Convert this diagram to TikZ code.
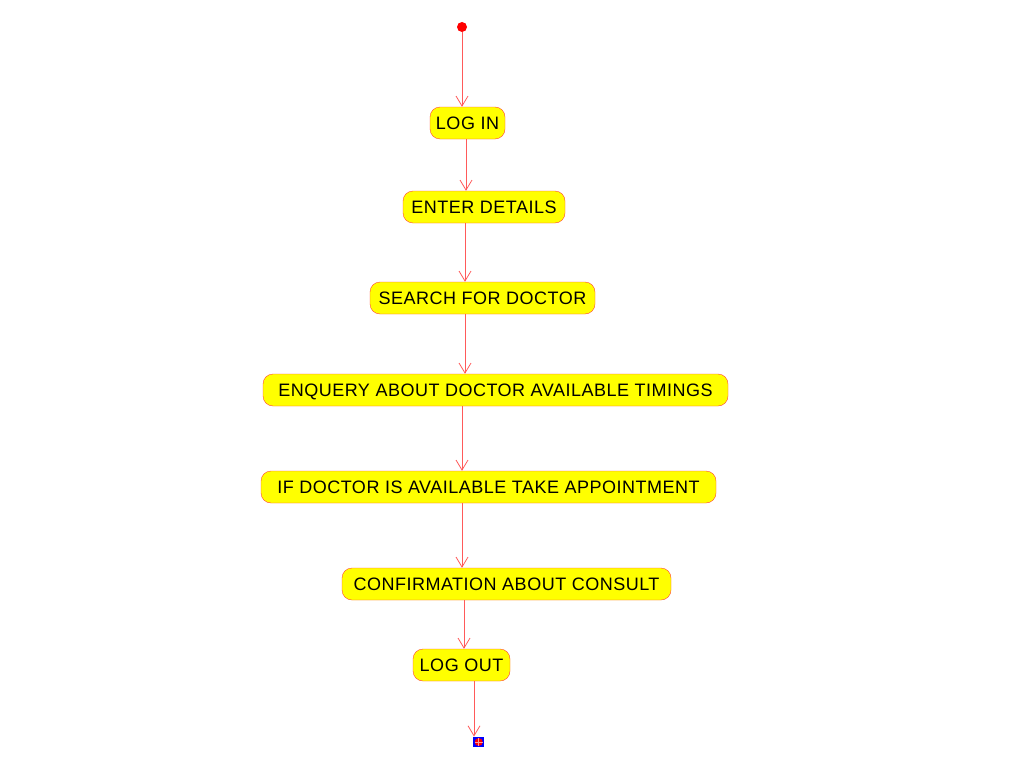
\documentclass[tikz,border=0pt]{standalone}
\usepackage{fontspec}
\setmainfont{Liberation Sans}
\newfontfamily\boxfont[LetterSpace=2.8]{Liberation Sans}
\usetikzlibrary{arrows.meta}
\definecolor{boxred}{HTML}{FF4433}
\definecolor{linered}{HTML}{FF5A5A}
\definecolor{boxfill}{HTML}{FFFF00}
\definecolor{endblue}{HTML}{0000FF}
\tikzset{
  act/.style={draw=boxred, fill=boxfill, rounded corners=10pt, minimum height=32pt,
    inner sep=0pt, text height=12.9pt, text depth=0pt,
    font=\boxfont\fontsize{18pt}{20pt}\selectfont, text=black},
  arr/.style={draw=linered, line width=0.8pt, -{Straight Barb[length=10pt,width=12pt,line width=0.8pt]}},
}
\begin{document}
\begin{tikzpicture}[x=1pt,y=1pt]
\useasboundingbox (0,0) rectangle (1015,-776);
\node[circle, fill=red, inner sep=0pt, minimum size=10pt] (start) at (462,-27) {};
\node[act, minimum width=75pt] (login) at (467.5,-123) {LOG IN};
\node[act, minimum width=162pt] (enter) at (484,-207) {ENTER DETAILS};
\node[act, minimum width=225pt] (search) at (482.5,-298) {SEARCH FOR DOCTOR};
\node[act, minimum width=465pt] (enq) at (495.5,-390) {ENQUERY ABOUT DOCTOR AVAILABLE TIMINGS};
\node[act, minimum width=455pt] (ifdoc) at (488.5,-487) {IF DOCTOR IS AVAILABLE TAKE APPOINTMENT};
\node[act, minimum width=329pt] (conf) at (506.5,-584) {CONFIRMATION ABOUT CONSULT};
\node[act, minimum width=97pt] (logout) at (461.5,-665) {LOG OUT};
\node[rectangle, fill=endblue, inner sep=0pt, minimum size=10.5pt] (end) at (478.7,-742) {};
\fill[red] (end.center) circle (4pt);
\draw[red!40, line width=0.9pt] ([xshift=-4pt]end.center) -- ([xshift=4pt]end.center)
  ([yshift=-4pt]end.center) -- ([yshift=4pt]end.center);
\draw[arr] (start.south) coordinate (t0) -- (t0 |- login.north);
\draw[arr] ([xshift=-1.5pt]login.south) coordinate (t1) -- (t1 |- enter.north);
\draw[arr] ([xshift=-19pt]enter.south) coordinate (t2) -- (t2 |- search.north);
\draw[arr] ([xshift=-17.5pt]search.south) coordinate (t3) -- (t3 |- enq.north);
\draw[arr] ([xshift=-33.5pt]enq.south) coordinate (t4) -- (t4 |- ifdoc.north);
\draw[arr] ([xshift=-26.5pt]ifdoc.south) coordinate (t5) -- (t5 |- conf.north);
\draw[arr] ([xshift=-42.5pt]conf.south) coordinate (t6) -- (t6 |- logout.north);
\draw[arr] ([xshift=12.5pt]logout.south) coordinate (t7) -- (t7 |- end.north);
\end{tikzpicture}
\end{document}
